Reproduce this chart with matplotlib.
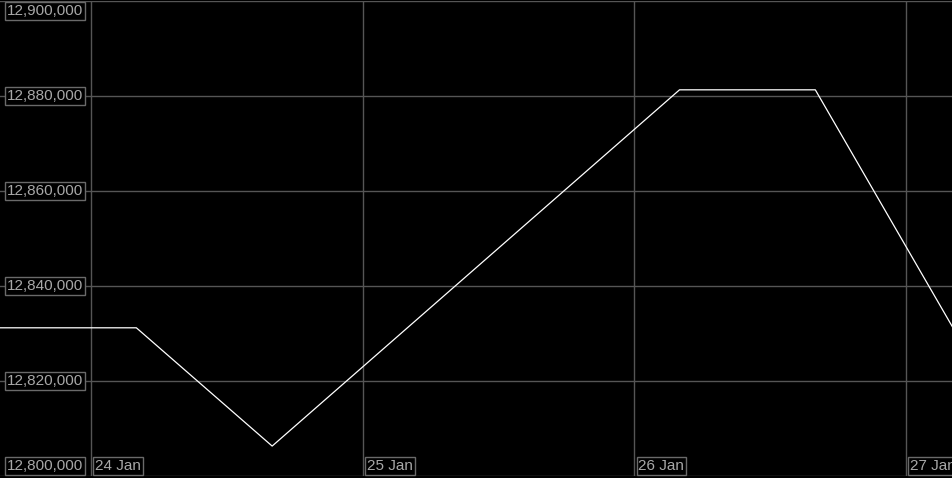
import matplotlib
matplotlib.use("Agg")
import matplotlib.pyplot as plt
import matplotlib.dates as mdates
import pandas as pd

times = ["2023-01-23 16:00", "2023-01-24 04:00", "2023-01-24 16:00",
         "2023-01-26 04:00", "2023-01-26 16:00", "2023-01-27 04:10"]
values = [12831200, 12831200, 12806300, 12881300, 12881300, 12831200]
y_ticks = [12800000, 12820000, 12840000, 12860000, 12880000, 12900000]
x_ticks = ["2023-01-24", "2023-01-25", "2023-01-26", "2023-01-27"]
x_labels = ["24 Jan", "25 Jan", "26 Jan", "27 Jan"]

t = mdates.date2num(pd.to_datetime(times).to_pydatetime())
xt = mdates.date2num(pd.to_datetime(x_ticks).to_pydatetime())

plt.rcParams['font.family'] = ['Liberation Sans', 'DejaVu Sans']
fig = plt.figure(figsize=(9.53, 4.78), dpi=100, facecolor="black")
ax = fig.add_axes([0, 2/478, 1, 475/478], facecolor="black")
ax.plot(t, values, color="white", lw=0.9, zorder=3)
ax.set_xlim(mdates.date2num(pd.Timestamp("2023-01-23 15:57").to_pydatetime()),
            mdates.date2num(pd.Timestamp("2023-01-27 04:10").to_pydatetime()))
ax.set_ylim(12800000, 12900000)
for s in ax.spines.values():
    s.set_visible(False)
ax.set_xticks([])
ax.set_yticks([])

grid_c = "#555555"
for y in y_ticks:
    ax.axhline(y, color=grid_c, lw=1, zorder=1)
for x in xt:
    ax.axvline(x, color=grid_c, lw=1, zorder=1)

txt_c = "#a8a8a8"
box = dict(boxstyle="square,pad=0.12", fc="black", ec="#6a6a6a", lw=1)
trans = ax.get_yaxis_transform()
for y in y_ticks:
    va = "center"
    off = 0
    if y == y_ticks[-1]:
        va = "top"; off = -2
    elif y == y_ticks[0]:
        va = "bottom"; off = 2
    ax.annotate(f"{y:,}", xy=(0, y), xycoords=trans, xytext=(5, off),
                textcoords="offset points", ha="left", va=va,
                color=txt_c, fontsize=11, bbox=box, zorder=5, annotation_clip=False)
xtrans = ax.get_xaxis_transform()
for x, lab in zip(xt, x_labels):
    ax.annotate(lab, xy=(x, 0), xycoords=xtrans, xytext=(3, 2),
                textcoords="offset points", ha="left", va="bottom",
                color=txt_c, fontsize=11, bbox=box, zorder=5, annotation_clip=False)

fig.savefig("out.png", dpi=100, facecolor="black")
